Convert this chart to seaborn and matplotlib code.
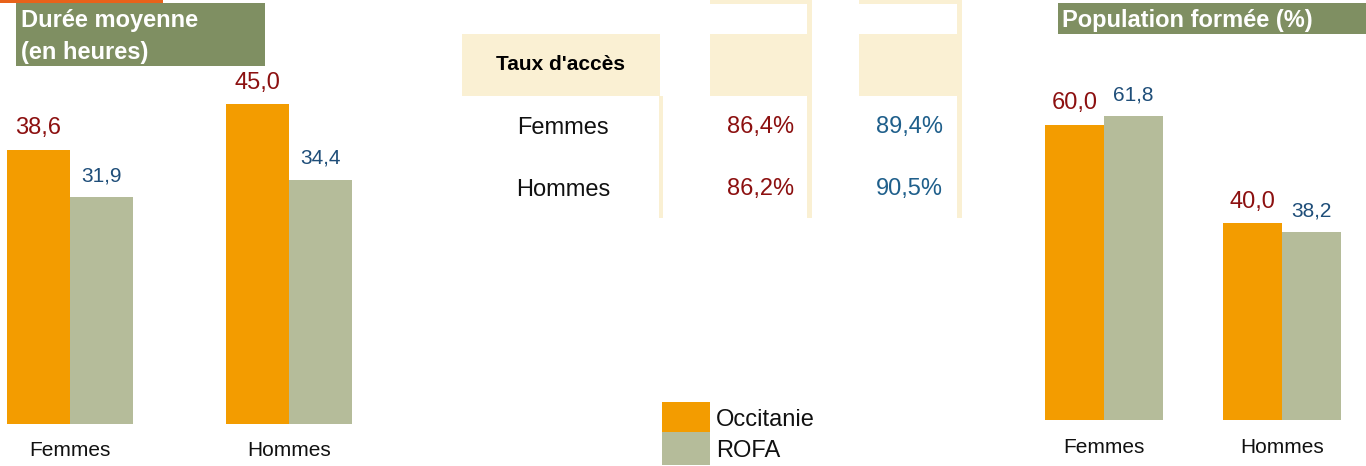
import matplotlib
matplotlib.use("Agg")
import matplotlib.pyplot as plt
from matplotlib.patches import Rectangle
import seaborn as sns
import pandas as pd

# ---- data ----
categories = ["Femmes", "Hommes"]
series = ["Occitanie", "ROFA"]
duree_occitanie = [38.6, 45.0]
duree_rofa = [31.9, 34.4]
pop_occitanie = [60.0, 40.0]
pop_rofa = [61.8, 38.2]
taux_occitanie = [86.4, 86.2]
taux_rofa = [89.4, 90.5]
title_left = ["Durée moyenne", "(en heures)"]
title_right = "Population formée (%)"
table_header = "Taux d'accès"

# ---- style ----
sns.set_style("white")
plt.rcParams["font.family"] = ["Liberation Sans", "DejaVu Sans"]

ORANGE = "#F39C00"
SAGE = "#B5BC9A"
TITLE_GREEN = "#7F8F62"
BEIGE = "#FAF0D3"
DARKRED = "#8C1010"
BLUE = "#1F4E79"
BLUE_T = "#1F5F8B"
TOPLINE = "#E8621A"

W, H = 1366, 466
fig = plt.figure(figsize=(W / 100, H / 100), dpi=100)


def fmt(v, pct=False):
    s = f"{v:.1f}".replace(".", ",")
    return s + ("%" if pct else "")


def make_df(a, b):
    return pd.DataFrame({
        "cat": categories * 2,
        "serie": [series[0]] * len(categories) + [series[1]] * len(categories),
        "val": list(a) + list(b),
    })


def bar_panel(px_left, px_right, px_base, center0, unit, scale, width, a, b, pad_tick):
    ax = fig.add_axes([px_left / W, (H - px_base) / H, (px_right - px_left) / W, px_base / H])
    df = make_df(a, b)
    sns.barplot(data=df, x="cat", y="val", hue="serie", order=categories,
                hue_order=series, palette=[ORANGE, SAGE], width=width,
                saturation=1, linewidth=0, legend=False, ax=ax)
    ax.set_xlim((px_left - center0) / unit, (px_right - center0) / unit)
    ax.set_ylim(0, px_base / scale)
    for sp in ax.spines.values():
        sp.set_visible(False)
    ax.set_yticks([])
    ax.set_xlabel("")
    ax.set_ylabel("")
    ax.tick_params(axis="x", length=0, pad=pad_tick, labelsize=15, labelcolor="#111111")
    ax.bar_label(ax.containers[0], labels=[fmt(v) for v in a], padding=7.5,
                 fontsize=17, color=DARKRED)
    ax.bar_label(ax.containers[1], labels=[fmt(v) for v in b], padding=8.5,
                 fontsize=15, color=BLUE)
    ax.patch.set_alpha(0)
    return ax


# left panel: Durée moyenne
bar_panel(0, 372, 424, 70, 219, 7.105, 126 / 219, duree_occitanie, duree_rofa, 12)
# right panel: Population formée
bar_panel(1030, 1366, 420, 1104, 178, 4.92, 118 / 178, pop_occitanie, pop_rofa, 13.3)

# ---- overlay in pixel coordinates ----
ov = fig.add_axes([0, 0, 1, 1])
ov.set_xlim(0, W)
ov.set_ylim(H, 0)
ov.axis("off")
ov.patch.set_alpha(0)


def rect(x0, y0, x1, y1, color):
    ov.add_patch(Rectangle((x0, y0), x1 - x0, y1 - y0, facecolor=color,
                           edgecolor="none", linewidth=0))


# title boxes
rect(0, 0, 163, 3, TOPLINE)
rect(16, 3, 265, 66, TITLE_GREEN)
ov.text(21, 19 + 8.5, title_left[0], color="white", fontsize=17,
        fontweight="bold", va="baseline", ha="left")
ov.text(21, 50 + 8.5, title_left[1], color="white", fontsize=17,
        fontweight="bold", va="baseline", ha="left")
rect(1058, 3, 1366, 34, TITLE_GREEN)
ov.text(1062, 18 + 8.5, title_right, color="white", fontsize=17,
        fontweight="bold", va="baseline", ha="left")

# table background
rect(462, 34, 660, 96, BEIGE)
rect(710, 34, 808, 96, BEIGE)
rect(859, 34, 957, 96, BEIGE)
rect(710, 0, 808, 4, BEIGE)
rect(859, 0, 957, 4, BEIGE)
rect(807, 0, 811.5, 218, BEIGE)
rect(956.5, 0, 961.5, 218, BEIGE)
rect(658.5, 96, 663, 218, BEIGE)

ov.text(561, 63 + 7.5, table_header, fontsize=15, fontweight="bold",
        color="black", ha="center", va="baseline")
row_y = [125, 187]
for i, cat in enumerate(categories):
    ov.text(563, row_y[i] + 8.5, cat, fontsize=17, color="#111111",
            ha="center", va="baseline")
    ov.text(794, row_y[i] + 8.5, fmt(taux_occitanie[i], True), fontsize=17,
            color=DARKRED, ha="right", va="baseline")
    ov.text(943, row_y[i] + 8.5, fmt(taux_rofa[i], True), fontsize=17,
            color=BLUE_T, ha="right", va="baseline")

# legend
leg_colors = [ORANGE, SAGE]
leg_y = [(402, 432), (432, 465)]
for i, name in enumerate(series):
    y0, y1 = leg_y[i]
    rect(662, y0, 710, y1, leg_colors[i])
    ov.text(716, (y0 + y1) / 2 + 8.5, name, fontsize=17, color="#111111",
            ha="left", va="baseline")

fig.savefig("out.png", dpi=100)
